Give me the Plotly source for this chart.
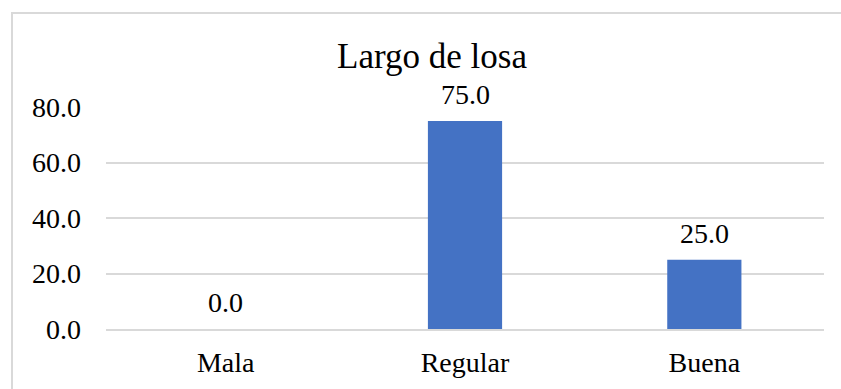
import plotly.graph_objects as go

categories = ["Mala", "Regular", "Buena"]
values = [0.0, 75.0, 25.0]
tick_vals = [0, 20, 40, 60, 80]
tick_text = ["0.0", "20.0", "40.0", "60.0", "80.0"]

FONT = "Liberation Serif, Times New Roman, serif"

fig = go.Figure(go.Bar(
    x=categories, y=values, marker_color="#4472C4", width=0.31,
    marker_line_width=0,
))

for c, v in zip(categories, values):
    fig.add_annotation(x=c, y=v, text=f"{v:.1f}", showarrow=False,
                       yanchor="bottom", yshift=9,
                       font=dict(family=FONT, size=28, color="#000"))

fig.add_shape(type="rect", xref="paper", yref="paper",
              x0=-106/718 + 12/718, x1=1.2, y0=-0.5, y1=1 + (107-13)/222,
              line=dict(color="#d9d9d9", width=2), layer="below")

fig.update_layout(
    width=841, height=389,
    margin=dict(l=106, r=17, t=107, b=60, autoexpand=False),
    paper_bgcolor="white", plot_bgcolor="white",
    showlegend=False,
    title=dict(text="Largo de losa", x=432/841, xanchor="center",
               y=1 - 56/389, yanchor="middle",
               font=dict(family=FONT, size=35, color="#000")),
    font=dict(family=FONT, size=28, color="#000"),
    bargap=0.69,
)
fig.update_yaxes(range=[0, 80], tickvals=tick_vals, ticktext=tick_text,
                 showgrid=True, gridcolor="#d9d9d9", gridwidth=1.5,
                 zeroline=False, showline=False, ticklabelstandoff=24,
                 automargin=False,
                 tickfont=dict(family=FONT, size=28, color="#000"))
fig.update_xaxes(showline=True, linecolor="#d9d9d9", linewidth=1.5,
                 ticklabelstandoff=8, automargin=False,
                 tickfont=dict(family=FONT, size=28, color="#000"))

fig.write_html("out.html")
